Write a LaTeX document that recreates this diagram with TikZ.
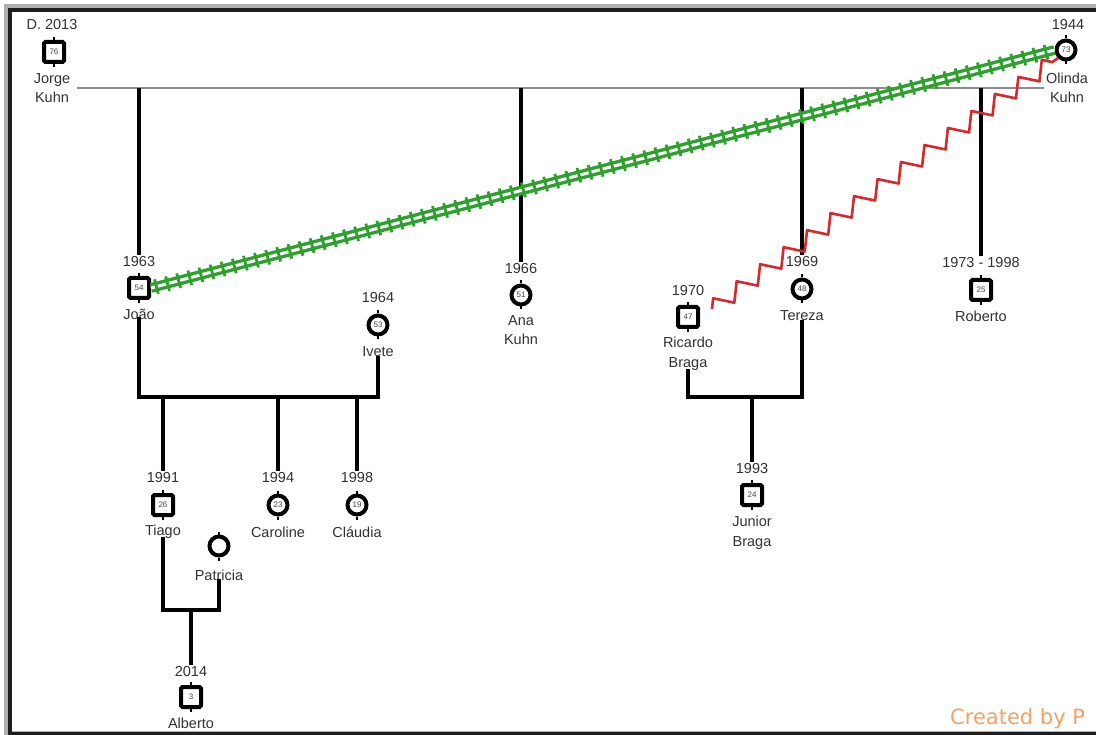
\documentclass[tikz,border=0pt]{standalone}
\usepackage{fontspec}
\setmainfont{Liberation Sans}
\newfontfamily\stampfont{DejaVu Sans}
\usetikzlibrary{calc,decorations.pathmorphing,decorations.markings}
\definecolor{lblgray}{RGB}{50,50,50}
\definecolor{agegray}{RGB}{70,70,70}
\definecolor{spousegray}{RGB}{140,140,140}
\definecolor{tiegreen}{RGB}{45,160,45}
\definecolor{conflictred}{RGB}{215,40,45}
\definecolor{stamporange}{RGB}{242,162,100}
\definecolor{framegray}{RGB}{175,175,175}
\definecolor{framedark}{RGB}{30,30,30}
\tikzset{
  person/.style={draw=black, fill=white, line width=4pt, inner sep=0pt,
    font=\fontsize{8}{9}\selectfont, text=agegray},
  male/.style={person, rectangle, rounded corners=1.5pt, minimum size=20pt},
  female/.style={person, circle, minimum size=19pt},
  lbl/.style={font=\fontsize{14.5}{19.5}\selectfont, text=lblgray, align=center, inner sep=1.5pt},
  kin/.style={draw=black, line width=3.2pt},
  spouse/.style={draw=spousegray, line width=2pt},
  stub/.style={draw=black, line width=1.8pt},
  tie/.style={draw=tiegreen, line width=3.4pt, double=white, double distance=3pt,
    postaction={decorate}, decoration={markings,
      mark=between positions 0.006 and 0.995 step 11.5pt with {\draw[tiegreen, line width=2.8pt] (0,-7.5pt) -- (0,7.5pt);}}},
  conflict/.style={draw=conflictred, line width=2.6pt, line join=round, decorate,
    decoration={zigzag, segment length=29pt, amplitude=8pt}}
}
\begin{document}
\begin{tikzpicture}[x=1pt,y=-1pt]
\useasboundingbox (0,0) rectangle (1096,735);
\clip (0,0) rectangle (1096,735);
% window frame
\fill[white] (0,0) rectangle (1096,735);
\fill[framegray] (4,4) rectangle (1096,735);
\fill[white] (12,12) rectangle (1096,731);
\draw[framedark, line width=4pt] (10,735) -- (10,10) -- (1096,10);
\draw[framedark, line width=3pt] (10,733) -- (1096,733);

% generation I
\node[male]   (jorge)  at (54,52)   {76};
\node[lbl]    (jorge-y) at (52,25)  {D. 2013};
\node[lbl]    (jorge-n) at (52,88)  {Jorge\\Kuhn};
\node[female] (olinda) at (1066,50) {73};
\node[lbl]    (olinda-y) at (1068,25) {1944};
\node[lbl]    (olinda-n) at (1067,88) {Olinda\\Kuhn};

% generation II
\node[male]   (joao)   at (139,288) {54};
\node[lbl]    (joao-y) at (139,262) {1963};
\node[lbl]    (joao-n) at (139,314) {João};
\node[female] (ivete)  at (378,325) {53};
\node[lbl]    (ivete-y) at (378,298) {1964};
\node[lbl]    (ivete-n) at (378,352) {Ivete};
\node[female] (ana)    at (521,295) {51};
\node[lbl]    (ana-y)  at (521,269) {1966};
\node[lbl]    (ana-n)  at (521,330) {Ana\\Kuhn};
\node[male]   (ricardo) at (688,317) {47};
\node[lbl]    (ricardo-y) at (688,291) {1970};
\node[lbl]    (ricardo-n) at (688,354) {Ricardo\\Braga};
\node[female] (tereza) at (802,289) {48};
\node[lbl]    (tereza-y) at (802,262) {1969};
\node[lbl]    (tereza-n) at (802,316) {Tereza};
\node[male]   (roberto) at (981,290) {25};
\node[lbl]    (roberto-y) at (981,263) {1973 - 1998};
\node[lbl]    (roberto-n) at (981,316) {Roberto};

% generation III
\node[male]   (tiago)  at (163,505) {26};
\node[lbl]    (tiago-y) at (163,478) {1991};
\node[lbl]    (tiago-n) at (163,532) {Tiago};
\node[female] (caroline) at (278,505) {23};
\node[lbl]    (caroline-y) at (278,478) {1994};
\node[lbl]    (caroline-n) at (278,532) {Caroline};
\node[female] (claudia) at (357,505) {19};
\node[lbl]    (claudia-y) at (357,478) {1998};
\node[lbl]    (claudia-n) at (357,532) {Cláudia};
\node[female] (patricia) at (219,546) {};
\node[lbl]    (patricia-n) at (219,575) {Patricia};
\node[male]   (junior) at (752,495) {24};
\node[lbl]    (junior-y) at (752,469) {1993};
\node[lbl]    (junior-n) at (752,533) {Junior\\Braga};

% generation IV
\node[male]   (alberto) at (191,697) {3};
\node[lbl]    (alberto-y) at (191,672) {2014};
\node[lbl]    (alberto-n) at (191,723) {Alberto};

% connection stubs on every symbol
\foreach \p in {jorge,olinda,joao,ivete,ana,ricardo,tereza,roberto,tiago,caroline,claudia,patricia,junior,alberto}
  \draw[stub] (\p.north) -- ++(0,-3) (\p.south) -- ++(0,3);

% Jorge + Olinda and their children
\coordinate (jo-l) at ($(jorge-n.east)+(5,0)$);
\draw[spouse] (jo-l) -- (olinda-n.west);
\foreach \c in {joao,ana,tereza,roberto}
  \draw[kin] (\c-y.north |- jo-l) -- (\c-y.north);

% João + Ivete
\coordinate (ji) at (259,397);
\draw[kin] ([yshift=4pt]joao-n.south) |- (ji) -| ([yshift=3pt]ivete-n.south);
\foreach \c in {tiago,caroline,claudia}
  \draw[kin] (\c-y.north |- ji) -- (\c-y.north);

% Tiago + Patricia
\coordinate (tp) at (191,610);
\draw[kin] ([yshift=3pt]tiago-n.south) |- (tp) -| ([yshift=3pt]patricia-n.south);
\draw[kin] (tp) -- (alberto-y.north);

% Ricardo + Tereza
\coordinate (rt) at (752,397);
\draw[kin] ([yshift=3pt]ricardo-n.south) |- (rt) -| ([yshift=3pt]tereza-n.south);
\draw[kin] (rt) -- (junior-y.north);

% emotional relationships
\draw[tie] (joao.east) -- (olinda.west);
\coordinate (rc) at ($(ricardo.east)+(12,-8)$);
\draw[conflict] (rc) -- (olinda.south west);

% software stamp
\node[anchor=base west, inner sep=0pt, text=stamporange, font=\stampfont\fontsize{21}{24}\selectfont]
  (stamp) at (950,724) {Created by P};
\end{tikzpicture}
\end{document}
